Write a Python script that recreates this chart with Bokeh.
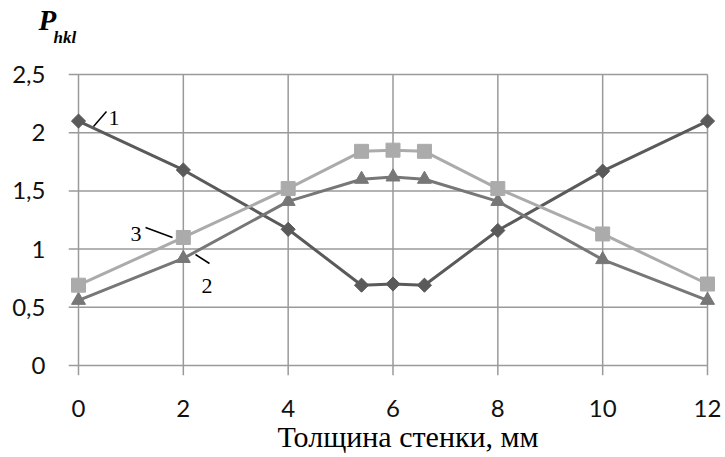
from bokeh.plotting import figure
from bokeh.models import Range1d, FixedTicker, Label, Title, ColumnDataSource
from bokeh.embed import file_html
from bokeh.resources import INLINE
from math import pi

# ---- data ----
thickness = [0, 2, 4, 5.4, 6, 6.6, 8, 10, 12]
series1 = [2.1, 1.68, 1.17, 0.69, 0.7, 0.69, 1.16, 1.67, 2.1]
series2 = [0.56, 0.92, 1.41, 1.6, 1.62, 1.6, 1.41, 0.91, 0.56]
series3 = [0.69, 1.1, 1.52, 1.84, 1.85, 1.84, 1.52, 1.13, 0.7]
x_ticks = [0, 2, 4, 6, 8, 10, 12]
y_ticks = [0, 0.5, 1, 1.5, 2, 2.5]
y_tick_labels = ["0", "0,5", "1", "1,5", "2", "2,5"]
x_title = "Толщина стенки, мм"
y_title_main = "P"
y_title_sub = "hkl"

# ---- layout (canvas pixel geometry) ----
X0_PX, X12_PX = 78.0, 707.0
Y0_PX, Y25_PX = 365.0, 74.0
sx = (X12_PX - X0_PX) / 12.0
sy = (Y0_PX - Y25_PX) / 2.5
FRAME_L, FRAME_R, FRAME_T, FRAME_B = 68.0, 716.0, 70.0, 375.0
W, H = 725, 457

def dx(px):
    return (px - X0_PX) / sx

def dy(py):
    return (Y0_PX - py) / sy

x_range = Range1d(dx(FRAME_L), dx(FRAME_R))
y_range = Range1d(dy(FRAME_B), dy(FRAME_T))

p = figure(width=W, height=H, x_range=x_range, y_range=y_range,
           output_backend="svg", toolbar_location=None,
           min_border_left=int(FRAME_L), min_border_right=int(W - FRAME_R),
           min_border_top=int(FRAME_T), min_border_bottom=int(H - FRAME_B))
p.outline_line_color = None
p.background_fill_color = "white"
p.border_fill_color = "white"
p.xgrid.visible = False
p.ygrid.visible = False

GRID = "#9a9a9a"
# gridlines (including the outside tick extensions)
p.segment(x0=[x_range.start] * len(y_ticks), y0=y_ticks, x1=[x_ticks[-1]] * len(y_ticks), y1=y_ticks,
          line_color=GRID, line_width=1.5)
p.segment(x0=x_ticks, y0=[y_range.start] * len(x_ticks), x1=x_ticks, y1=[y_ticks[-1]] * len(x_ticks),
          line_color=GRID, line_width=1.5)

for ax in (p.xaxis[0], p.yaxis[0]):
    ax.axis_line_color = None
    ax.major_tick_line_color = None
    ax.minor_tick_line_color = None
    ax.major_label_text_font = "Lato"
    ax.major_label_text_font_size = "24px"
    ax.major_label_text_color = "#111111"

p.xaxis[0].ticker = FixedTicker(ticks=x_ticks)
p.yaxis[0].ticker = FixedTicker(ticks=y_ticks)
p.yaxis[0].major_label_overrides = {t: l for t, l in zip(y_ticks, y_tick_labels)}
p.xaxis[0].major_label_standoff = 18
p.yaxis[0].major_label_standoff = 17

src = ColumnDataSource(dict(x=thickness, s1=series1, s2=series2, s3=series3))

C1, C2, C3 = "#5a5a5a", "#777777", "#ababab"
p.line("x", "s1", source=src, line_color=C1, line_width=3)
p.scatter("x", "s1", source=src, marker="square", angle=pi / 4, size=10, fill_color=C1, line_color=C1)
p.line("x", "s2", source=src, line_color=C2, line_width=3)
p.scatter("x", "s2", source=src, marker="triangle", size=14, fill_color=C2, line_color=C2)
p.line("x", "s3", source=src, line_color=C3, line_width=3)
p.scatter("x", "s3", source=src, marker="square", size=14, fill_color=C3, line_color=C3)

# leader lines for series numbers
lead_x0 = [dx(93), dx(145), dx(195)]
lead_y0 = [dy(126), dy(227), dy(254)]
lead_x1 = [dx(106), dx(172), dx(209)]
lead_y1 = [dy(111), dy(237), dy(263)]
p.segment(x0=lead_x0, y0=lead_y0, x1=lead_x1, y1=lead_y1, line_color="black", line_width=1.5)

SERIF = "Liberation Serif"
for txt, lx, ly in (("1", 108, 117), ("3", 130, 233), ("2", 201, 285)):
    p.add_layout(Label(x=dx(lx), y=dy(ly), text=txt, text_font=SERIF, text_font_size="22px",
                       text_color="black", text_baseline="alphabetic", text_align="left"))

# y-title P_hkl placed in the top side panel (screen units relative to each label's panel slot)
P_BASE, HKL_BASE = 32, 44          # target baselines (canvas px)
P_SLOT, HKL_SLOT = 82.5, 45.0      # measured slot reference of each label
p.add_layout(Label(x=38 - FRAME_L, y=P_SLOT - P_BASE, x_units="screen", y_units="screen", text=y_title_main,
                   text_font=SERIF, text_font_size="29px", text_font_style="bold italic",
                   text_color="black", text_baseline="alphabetic"), "above")
p.add_layout(Label(x=53 - FRAME_L, y=HKL_SLOT - HKL_BASE, x_units="screen", y_units="screen", text=y_title_sub,
                   text_font=SERIF, text_font_size="17px", text_font_style="bold italic",
                   text_color="black", text_baseline="alphabetic"), "above")

# x-title below the axis
p.add_layout(Title(text=x_title, align="left", offset=277 - FRAME_L, vertical_align="top", standoff=0,
                   text_font=SERIF, text_font_size="30px", text_font_style="normal",
                   text_color="black"), "below")

open("out.html", "w").write(file_html(p, INLINE))
